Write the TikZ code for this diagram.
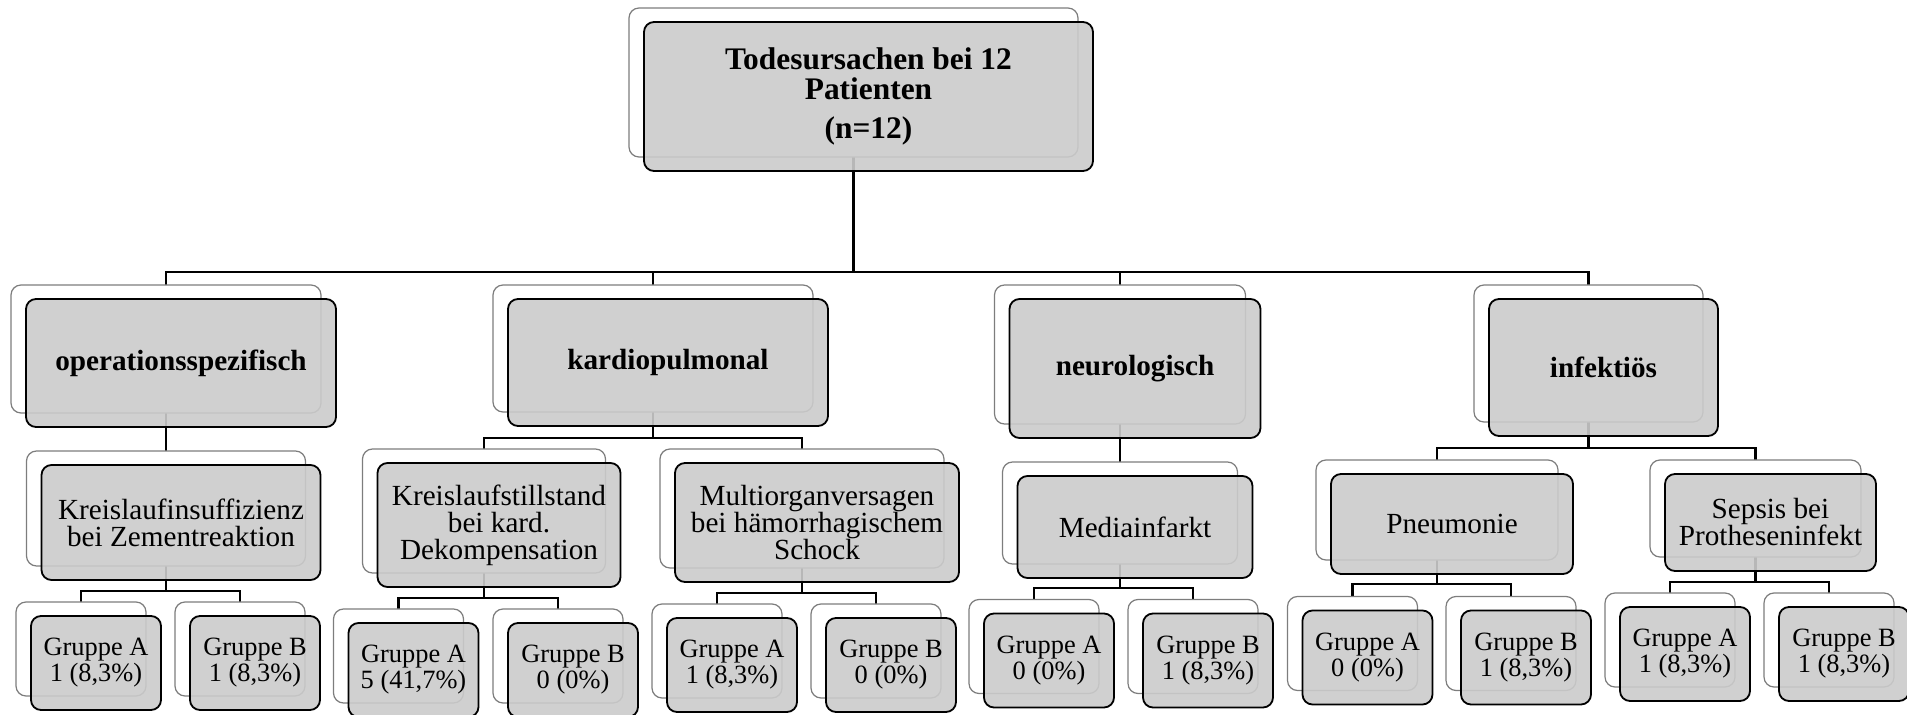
\documentclass[tikz,border=0pt]{standalone}
\usepackage{fontspec}
\setmainfont{Liberation Serif}
\usepackage{tikz}
\usetikzlibrary{positioning, shadows, backgrounds}
\definecolor{boxgray}{RGB}{203,203,203}
\definecolor{framegray}{RGB}{125,125,125}

\tikzset{
    box/.style={draw, line width=0.9pt, rounded corners=5pt, fill=boxgray,
        fill opacity=0.9, text opacity=1, align=center, inner sep=2pt,
        copy shadow={shadow xshift=-7.5pt, shadow yshift=7pt, fill=white,
            fill opacity=1, draw=framegray, draw opacity=1, line width=0.6pt}},
    root/.style={box, font=\fontsize{15.7}{15}\selectfont\bfseries},
    cat/.style={box, font=\fontsize{14.6}{14}\selectfont\bfseries},
    cause/.style={box, font=\fontsize{14.6}{13.5}\selectfont},
    grp/.style={box, minimum width=65pt, minimum height=47pt,
        font=\fontsize{13.2}{11.5}\selectfont},
    link/.style={line width=1.4pt},
}

\begin{document}
\begin{tikzpicture}[x=0.5pt, y=-0.5pt]
    \useasboundingbox (0,0) rectangle (1907,715);

    % Wurzel
    \node[root, minimum width=224.5pt, minimum height=74.5pt] (total) at (868.5,96.5)
        {Todesursachen bei 12\\Patienten\\[4.5pt](n=12)};

    % Hauptgruppen
    \node[cat, minimum width=155pt, minimum height=64pt] (opsp) at (181,363) {operationsspezifisch};
    \node[cat, minimum width=160pt, minimum height=63.5pt] (kard) at (668,362.5) {kardiopulmonal};
    \node[cat, minimum width=125.5pt, minimum height=69.5pt] (neuro) at (1135,368.5) {neurologisch};
    \node[cat, minimum width=114.5pt, minimum height=68.5pt] (infekt) at (1603.5,367.5) {infektiös};

    % Ursachen
    \node[cause, minimum width=139.5pt, minimum height=57.5pt] (kins) at (181,522.5)
        {Kreislaufinsuffizienz\\bei Zementreaktion};
    \node[cause, minimum width=121.5pt, minimum height=62pt] (kst) at (499,525)
        {Kreislaufstillstand\\bei kard.\\Dekompensation};
    \node[cause, minimum width=142pt, minimum height=59.5pt] (mov) at (817,522.5)
        {Multiorganversagen\\bei hämorrhagischem\\Schock};
    \node[cause, minimum width=117.5pt, minimum height=51pt] (media) at (1135,527) {Mediainfarkt};
    \node[cause, minimum width=121pt, minimum height=50pt] (pneu) at (1452,524) {Pneumonie};
    \node[cause, minimum width=105.5pt, minimum height=48.5pt] (sepsis) at (1770.5,522.5)
        {Sepsis bei\\Protheseninfekt};

    % Gruppen
    \node[grp] (opA) at (96,663) {Gruppe A\\1 (8,3\%)};
    \node[grp] (opB) at (255,663) {Gruppe B\\1 (8,3\%)};
    \node[grp] (kstA) at (413.5,670) {Gruppe A\\5 (41,7\%)};
    \node[grp] (kstB) at (573,670) {Gruppe B\\0 (0\%)};
    \node[grp] (movA) at (732,665) {Gruppe A\\1 (8,3\%)};
    \node[grp] (movB) at (891,665) {Gruppe B\\0 (0\%)};
    \node[grp] (medA) at (1049,660.5) {Gruppe A\\0 (0\%)};
    \node[grp] (medB) at (1208,660.5) {Gruppe B\\1 (8,3\%)};
    \node[grp] (pneA) at (1367.5,657.5) {Gruppe A\\0 (0\%)};
    \node[grp] (pneB) at (1526,657.5) {Gruppe B\\1 (8,3\%)};
    \node[grp] (sepA) at (1685,654) {Gruppe A\\1 (8,3\%)};
    \node[grp] (sepB) at (1844,654) {Gruppe B\\1 (8,3\%)};

    % Ankerpunkte der Verbindungen (Mitte des hinteren Rahmens)
    \foreach \n in {total,opsp,kard,neuro,infekt,kins,kst,mov,media,pneu,sepsis,
                    opA,opB,kstA,kstB,movA,movB,medA,medB,pneA,pneB,sepA,sepB}
        \coordinate (\n-b) at ([xshift=-7.5pt]\n.center);

    % Verbindungen
    \begin{scope}[on background layer]
        \foreach \p/\y/\kids in {total/272/{opsp,kard,neuro,infekt}, opsp/440/{kins},
                                 kard/438/{kst,mov}, neuro/450/{media}, infekt/448/{pneu,sepsis},
                                 kins/591/{opA,opB}, kst/598/{kstA,kstB}, mov/593/{movA,movB},
                                 media/588/{medA,medB}, pneu/584/{pneA,pneB}, sepsis/582/{sepA,sepB}}
            \foreach \k in \kids
                \draw[link] (\p-b) -- (\p-b |- 0,\y) -| (\k-b);
    \end{scope}
\end{tikzpicture}
\end{document}
